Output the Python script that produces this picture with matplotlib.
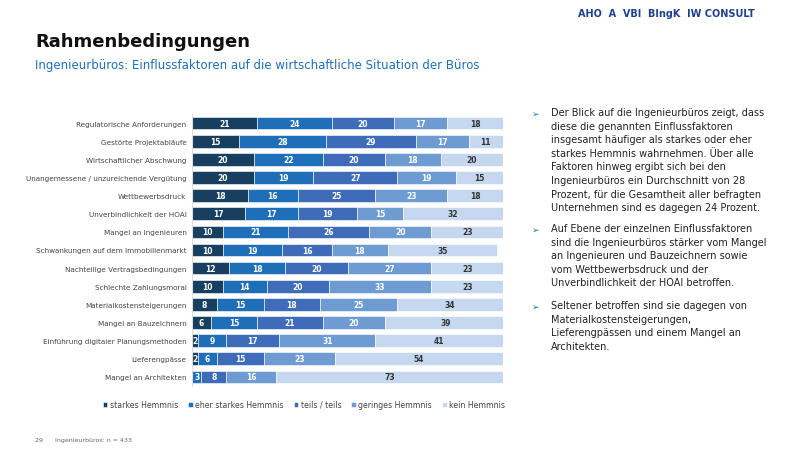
import numpy as np
import matplotlib.pyplot as plt

categories = [
    "Regulatorische Anforderungen", "Gestörte Projektabläufe", "Wirtschaftlicher Abschwung",
    "Unangemessene / unzureichende Vergütung", "Wettbewerbsdruck", "Unverbindlichkeit der HOAI",
    "Mangel an Ingenieuren", "Schwankungen auf dem Immobilienmarkt", "Nachteilige Vertragsbedingungen",
    "Schlechte Zahlungsmoral", "Materialkostensteigerungen", "Mangel an Bauzeichnern",
    "Einführung digitaler Planungsmethoden", "Lieferengpässe", "Mangel an Architekten",
]
series = ["starkes Hemmnis", "eher starkes Hemmnis", "teils / teils", "geringes Hemmnis", "kein Hemmnis"]
starkes = [21, 15, 20, 20, 18, 17, 10, 10, 12, 10, 8, 6, 2, 2, 0]
eher = [24, 28, 22, 19, 16, 17, 21, 19, 18, 14, 15, 15, 9, 6, 3]
teils = [20, 29, 20, 27, 25, 19, 26, 16, 20, 20, 18, 21, 17, 15, 8]
gering = [17, 17, 18, 19, 23, 15, 20, 18, 27, 33, 25, 20, 31, 23, 16]
kein = [18, 11, 20, 15, 18, 32, 23, 35, 23, 23, 34, 39, 41, 54, 73]

colors = ["#173f5f", "#1f6fb8", "#3f6cb8", "#6f9bd3", "#c5d8f0"]
text_colors = ["white", "white", "white", "white", "#333333"]

fig = plt.figure(figsize=(8.1, 4.56), dpi=100)
fig.patch.set_facecolor("white")
ax = fig.add_axes([192 / 810, 1 - 387 / 456, 311 / 810, 272 / 456])

y = np.arange(len(categories))
left = np.zeros(len(categories))
for vals, name, c, tc in zip([starkes, eher, teils, gering, kein], series, colors, text_colors):
    vals = np.array(vals, dtype=float)
    ax.barh(y, vals, left=left, color=c, height=0.7, label=name, edgecolor="white", linewidth=0.4)
    for yi, (l, v) in enumerate(zip(left, vals)):
        if v > 0:
            ax.text(l + v / 2, yi, f"{v:.0f}", ha="center", va="center",
                    fontsize=5.5, fontweight="bold", color=tc)
    left += vals

ax.set_xlim(0, 100)
ax.set_ylim(len(categories) - 0.5, -0.5)
ax.set_yticks(y)
ax.set_yticklabels(categories, fontsize=5.2, color="#444444")
ax.tick_params(axis="y", length=0, pad=4)
ax.set_xticks([])
for s in ["top", "right", "bottom"]:
    ax.spines[s].set_visible(False)
ax.spines["left"].set_color("#dddddd")

ax.legend(loc="upper left", bbox_to_anchor=(-0.31, -0.025), ncol=5, frameon=False,
          fontsize=5.6, handlelength=0.6, handleheight=0.6, handletextpad=0.3, columnspacing=1.3,
          labelcolor="#444444")

fig.text(35 / 810, 1 - 42 / 456, "Rahmenbedingungen", fontsize=13, fontweight="bold",
         color="#111111", va="center")
fig.text(35 / 810, 1 - 66 / 456, "Ingenieurbüros: Einflussfaktoren auf die wirtschaftliche Situation der Büros",
         fontsize=8.5, color="#1f6fb8", va="center")
fig.text(578 / 810, 1 - 14 / 456, "AHO  A  VBI  BIngK  IW CONSULT", fontsize=7, fontweight="bold",
         color="#1f3f8f", va="center")
fig.text(35 / 810, 1 - 441 / 456, "29      Ingenieurbüros: n = 433", fontsize=4.5, color="#666666", va="center")

paras = [
    (110, "Der Blick auf die Ingenieurbüros zeigt, dass\ndiese die genannten Einflussfaktoren\ninsgesamt häufiger als starkes oder eher\nstarkes Hemmnis wahrnehmen. Über alle\nFaktoren hinweg ergibt sich bei den\nIngenieurbüros ein Durchschnitt von 28\nProzent, für die Gesamtheit aller befragten\nUnternehmen sind es dagegen 24 Prozent."),
    (226, "Auf Ebene der einzelnen Einflussfaktoren\nsind die Ingenieurbüros stärker vom Mangel\nan Ingenieuren und Bauzeichnern sowie\nvom Wettbewerbsdruck und der\nUnverbindlichkeit der HOAI betroffen."),
    (303, "Seltener betroffen sind sie dagegen von\nMaterialkostensteigerungen,\nLieferengpässen und einem Mangel an\nArchitekten."),
]
for ypix, txt in paras:
    fig.text(532 / 810, 1 - ypix / 456, "➢", fontsize=6.5, color="#1f6fb8", va="top")
    fig.text(551 / 810, 1 - (ypix - 2) / 456, txt, fontsize=7.0, color="#222222", va="top",
             linespacing=1.45)

fig.savefig("out.png", dpi=100)
